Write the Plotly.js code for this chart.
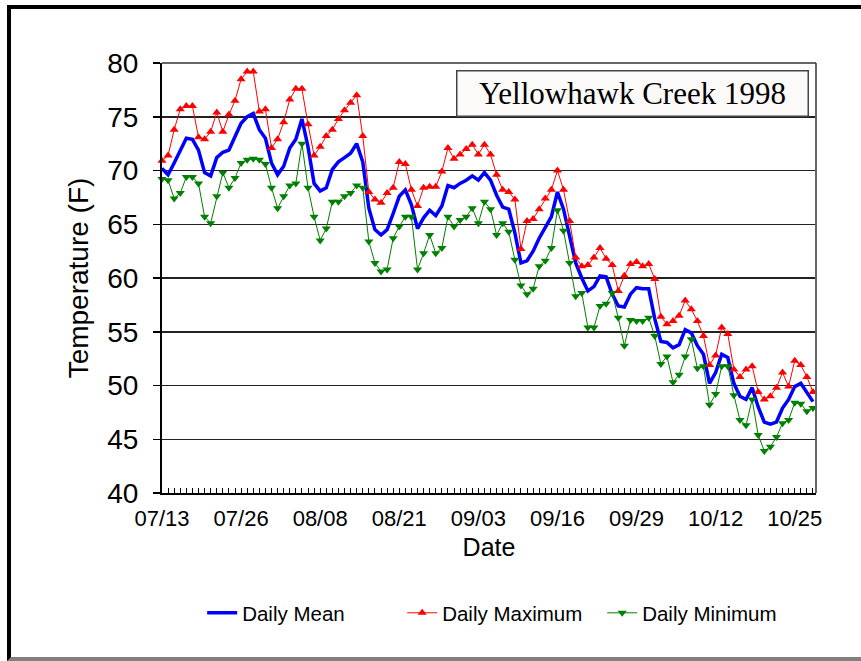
<!DOCTYPE html>
<html>
<head>
<meta charset="utf-8">
<script src="https://cdn.plot.ly/plotly-3.0.1.min.js"></script>
<style>
  body { margin: 0; background: #fff; }
  #wrap { position: relative; width: 861px; height: 661px; }
  #plot { width: 861px; height: 661px; }
  #frame {
    position: absolute; left: 7px; top: 5px; right: -10px; bottom: 0px;
    border-left: 4px solid #000; border-top: 4px solid #000;
    border-bottom: 4px solid #808080; pointer-events: none;
  }
</style>
</head>
<body>
<div id="wrap">
  <div id="plot"></div>
  <div id="frame"></div>
</div>
<script>
// Yellowhawk Creek 1998, daily water temperature (F), starting 07/13
var startDate = "1998-07-13";

var dailyMean = [
  70.2, 69.6, 70.7, 71.9, 73.0, 72.9, 71.9, 69.8, 69.5, 71.2,
  71.7, 71.9, 73.2, 74.4, 75.0, 75.3, 73.8, 73.0, 70.7, 69.6,
  70.4, 72.1, 72.9, 74.8, 72.2, 68.8, 68.1, 68.4, 70.1, 70.8,
  71.2, 71.6, 72.5, 70.8, 66.5, 64.5, 64.0, 64.5, 66.0, 67.6,
  68.2, 66.8, 64.6, 65.6, 66.3, 65.8, 66.7, 68.6, 68.4, 68.8,
  69.1, 69.5, 69.1, 69.8, 69.1, 67.7, 66.6, 66.4, 64.2, 61.4,
  61.6, 62.5, 63.7, 64.7, 65.7, 68.0, 66.4, 63.9, 61.4, 60.0,
  58.8, 59.2, 60.2, 60.1, 58.5, 57.4, 57.3, 58.5, 59.1, 59.0,
  59.0, 56.2, 54.1, 54.0, 53.5, 53.8, 55.2, 54.9, 53.7, 52.9,
  50.2, 51.2, 52.9, 52.6, 50.2, 49.0, 48.7, 49.8, 48.0, 46.6,
  46.4, 46.6, 47.9, 48.7, 49.9, 50.2, 49.4, 48.5
];

var dailyMax = [
  70.9, 71.4, 73.8, 75.7, 76.0, 76.0, 73.1, 72.9, 73.6, 75.4,
  73.6, 75.2, 76.5, 78.5, 79.2, 79.2, 75.5, 75.7, 72.1, 72.9,
  74.5, 76.6, 77.6, 77.6, 74.3, 71.4, 72.2, 73.2, 73.8, 74.8,
  75.6, 76.3, 77.0, 73.2, 68.0, 67.3, 67.0, 67.9, 68.4, 70.8,
  70.6, 68.2, 66.7, 68.4, 68.5, 68.5, 69.9, 72.1, 71.1, 71.5,
  72.0, 72.4, 71.5, 72.4, 71.5, 69.6, 68.2, 68.0, 67.3, 62.7,
  65.3, 65.5, 66.4, 67.4, 68.2, 70.0, 68.2, 65.3, 61.9, 61.1,
  61.2, 61.9, 62.8, 61.8, 61.2, 58.8, 60.2, 61.3, 61.5, 61.1,
  61.3, 59.9, 56.4, 55.7, 56.0, 56.5, 57.9, 57.1, 56.0, 54.6,
  51.9, 52.8, 55.4, 54.8, 51.5, 50.8, 51.5, 51.8, 49.4, 48.7,
  49.0, 49.8, 51.2, 49.9, 52.3, 51.9, 50.8, 49.4
];

var dailyMin = [
  69.2, 69.1, 67.4, 67.9, 69.4, 69.4, 68.8, 65.7, 65.1, 67.6,
  69.8, 68.4, 69.3, 70.7, 71.0, 71.1, 71.0, 70.6, 68.4, 66.5,
  67.6, 68.6, 68.8, 72.5, 68.4, 65.7, 63.5, 64.6, 67.1, 67.1,
  67.6, 67.9, 68.6, 68.4, 63.4, 61.4, 60.6, 60.8, 63.7, 64.8,
  65.7, 65.7, 60.8, 62.3, 64.0, 62.3, 62.8, 65.7, 64.8, 65.4,
  65.7, 66.5, 65.1, 67.1, 66.4, 64.0, 65.1, 64.3, 61.7, 59.3,
  58.5, 59.0, 61.1, 61.6, 62.8, 66.3, 64.4, 61.4, 58.3, 58.6,
  55.4, 55.4, 57.4, 57.6, 58.6, 56.3, 53.7, 56.1, 56.0, 56.0,
  56.3, 54.6, 52.0, 52.7, 50.3, 51.0, 52.7, 54.3, 51.6, 51.8,
  48.2, 49.2, 51.8, 51.8, 49.1, 46.8, 46.3, 48.7, 45.4, 43.9,
  44.3, 45.2, 46.5, 46.8, 48.4, 48.3, 47.6, 47.9
];

// one date per reading
var DAY = 86400000;
var t0 = Date.UTC(1998, 6, 13);
var dates = dailyMean.map(function(v, i) {
  return new Date(t0 + i * DAY).toISOString().slice(0, 10);
});

var font = "Arial, 'Liberation Sans', sans-serif";

var trace1 = {
  x: dates, y: dailyMean, name: "Daily Mean",
  type: "scatter", mode: "lines",
  line: {color: "#0000ff", width: 3.5},
  cliponaxis: false
};

var trace2 = {
  x: dates, y: dailyMax, name: "Daily Maximum",
  type: "scatter", mode: "lines+markers",
  line: {color: "#ff0000", width: 1},
  marker: {symbol: "triangle-up", size: 8, color: "#ff0000"},
  cliponaxis: false
};

var trace3 = {
  x: dates, y: dailyMin, name: "Daily Minimum",
  type: "scatter", mode: "lines+markers",
  line: {color: "#008000", width: 1},
  marker: {symbol: "triangle-down", size: 8, color: "#008000"},
  cliponaxis: false
};

var layout = {
  width: 861, height: 661,
  margin: {l: 162, r: 44.5, t: 63, b: 168},
  paper_bgcolor: "#fff", plot_bgcolor: "#fff",
  font: {family: font, color: "#000"},
  showlegend: true,
  legend: {
    orientation: "h", xref: "container", yref: "container",
    x: 0.2348, y: 1 - 613 / 661, xanchor: "left", yanchor: "middle",
    font: {family: font, size: 20.5}, entrywidth: 155, entrywidthmode: "pixels"
  },
  xaxis: {
    type: "date",
    range: ["1998-07-13", "1998-10-28 12:00"],
    tick0: startDate, dtick: 13 * DAY, tickformat: "%m/%d",
    ticks: "inside", ticklen: 5, tickcolor: "#000", tickwidth: 1,
    minor: {dtick: DAY, ticks: "inside", ticklen: 5, tickcolor: "#000", tickwidth: 1, showgrid: false},
    showgrid: false, zeroline: false,
    showline: true, linecolor: "#000", linewidth: 2,
    tickfont: {family: font, size: 22},
    ticklabelstandoff: 5,
    title: {text: "Date", font: {family: font, size: 25}, standoff: 8}
  },
  yaxis: {
    range: [40, 80], dtick: 5,
    ticks: "outside", ticklen: 7, tickcolor: "#000", tickwidth: 1.5,
    showgrid: true, gridcolor: "#222", gridwidth: 1.5,
    zeroline: false, showline: true, linecolor: "#000", linewidth: 2,
    tickfont: {family: font, size: 28},
    ticklabelstandoff: 9,
    title: {text: "Temperature (F)", font: {family: font, size: 28}, standoff: 10}
  },
  shapes: [
    {type: "line", xref: "paper", yref: "paper", x0: 1, x1: 1, y0: 0, y1: 1,
     line: {color: "#666", width: 2}},
    {type: "line", xref: "paper", yref: "paper", x0: 0, x1: 1, y0: 1, y1: 1,
     line: {color: "#333", width: 1.5}}
  ],
  annotations: [{
    xref: "paper", yref: "paper", x: 0.7196, y: 0.9302,
    xanchor: "center", yanchor: "middle",
    text: "Yellowhawk Creek 1998", showarrow: false,
    font: {family: "'Times New Roman', 'Liberation Serif', serif", size: 31, color: "#000"},
    bgcolor: "#fcf9f9", bordercolor: "#444", borderwidth: 1.5,
    width: 350, height: 44, borderpad: 0
  }]
};

var config = {responsive: false, displayModeBar: false, staticPlot: true};

Plotly.newPlot("plot", [trace1, trace2, trace3], layout, config);
</script>
</body>
</html>
